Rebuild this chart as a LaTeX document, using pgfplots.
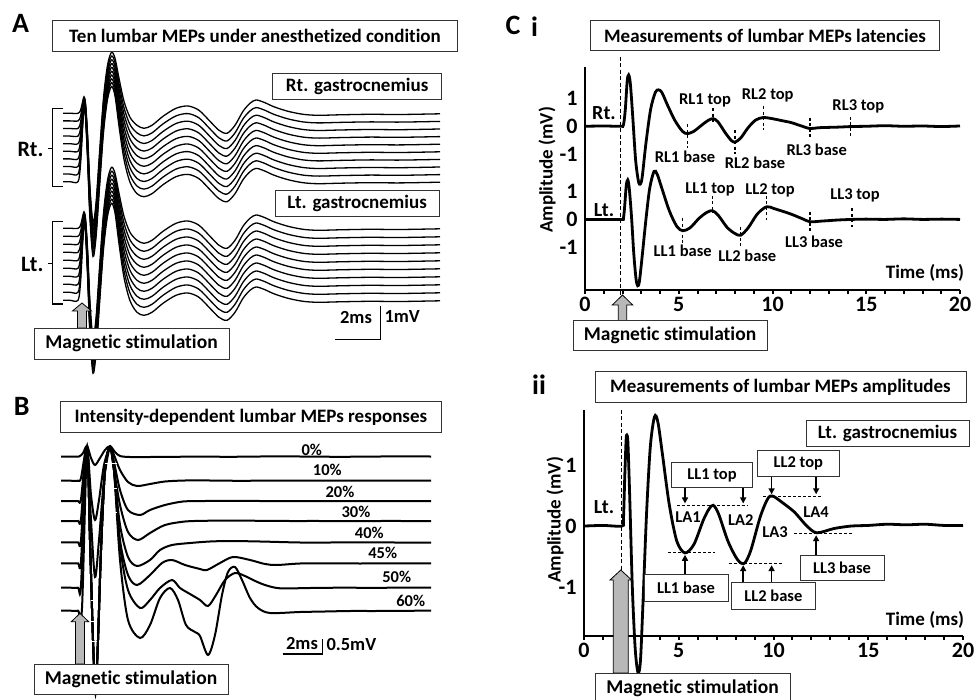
\documentclass[border=0pt]{standalone}
\usepackage{fontspec}
\setmainfont{Carlito}[Ligatures=NoCommon]
\usepackage{pgfplots}
\usepackage{pgfplotstable}
\pgfplotsset{compat=1.18}
\usetikzlibrary{arrows.meta}

\newcommand\fs[1]{\fontsize{#1}{#1}\selectfont\bfseries}

% template of one lumbar MEP (panel A), px: x, displacement d, weight w of the trace offset
\pgfplotstableread{
x d w
63 0 1
70 0 1
78 0 1
80.5 3 0.8
82.5 11 0.4
84 16.5 0.15
85.5 10 0.2
87.5 -20 0.35
90 -75 0.45
93 -109 0.5
96 -90 0.5
99.5 -40 0.5
103.5 15 0.5
107.5 48 0.5
111.5 61 0.5
115 55 0.55
119 35 0.7
124 12 0.85
130 -4 0.95
137 -12 1
144 -15 1
152 -12 1
163 -3 1
176 5 1
188 7.3 1
199 3 1
210 -8 1
219 -17 1
227 -20 1
235 -12 1
243 2 1
250 10 1
256 13.3 1
264 11 1
274 6.5 1
288 2 1
303 -1 1
318 -2 1
340 -1.5 1
370 -1 1
400 -1.2 1
440 -0.5 1
}\Atemp

% panel C i, right (ms, mV)
\pgfplotstableread{
t v
0 0
1 0.01
1.9 0
2.05 0.05
2.15 0.6
2.25 1.6
2.33 1.82
2.42 1.5
2.55 0.3
2.7 -1.2
2.85 -1.95
2.95 -2.05
3.05 -1.8
3.25 -0.6
3.5 0.6
3.75 1.2
3.92 1.29
4.1 1.2
4.4 0.75
4.8 0.2
5.2 -0.18
5.46 -0.26
5.8 -0.18
6.3 0.08
6.6 0.22
6.84 0.27
7.1 0.15
7.5 -0.25
7.8 -0.5
8.0 -0.56
8.3 -0.42
8.7 -0.05
9.1 0.22
9.5 0.31
9.9 0.28
10.5 0.2
11.0 0.13
11.5 0.02
12.0 -0.08
12.5 -0.05
13.5 -0.03
14.2 -0.01
15 0
16 0.02
17 0
18 0.01
19 -0.01
20 0.01
}\CiRt

% panel C i, left
\pgfplotstableread{
t v
0 0
1 0
1.95 0
2.05 0.05
2.12 0.5
2.2 1.2
2.28 1.4
2.36 1.1
2.48 0.1
2.6 -1.2
2.72 -2.1
2.81 -2.35
2.9 -2.2
3.05 -1.3
3.25 0.0
3.45 1.1
3.68 1.7
3.85 1.6
4.1 1.1
4.5 0.3
4.9 -0.25
5.21 -0.4
5.6 -0.3
6.1 0.05
6.5 0.25
6.79 0.31
7.1 0.15
7.6 -0.3
8.0 -0.5
8.3 -0.56
8.7 -0.3
9.2 0.2
9.69 0.45
10.1 0.38
10.9 0.21
11.5 0.05
12.0 -0.08
12.6 -0.06
13.5 -0.02
14.25 0
15 0.01
16 0
17 0.02
18 0
19 0.01
20 0
}\CiLt

% panel C ii, left
\pgfplotstableread{
t v
0 0
1 0.01
2 0
2.08 0.1
2.15 0.8
2.22 1.4
2.26 1.49
2.32 1.35
2.42 0.4
2.55 -1.0
2.7 -2.0
2.85 -2.4
2.98 -2.2
3.12 -1.2
3.3 0.2
3.5 1.3
3.72 1.79
3.9 1.7
4.15 1.15
4.5 0.35
4.9 -0.25
5.33 -0.44
5.8 -0.3
6.3 0.1
6.6 0.28
6.82 0.34
7.1 0.2
7.6 -0.25
8.1 -0.55
8.46 -0.61
8.8 -0.4
9.3 0.15
9.7 0.45
9.96 0.49
10.4 0.4
11.1 0.23
11.7 0.02
12.27 -0.11
13.2 -0.04
14.1 0
15 0.01
16 0.03
17 0.02
18 0.03
19 0.01
20 0.01
}\CiiLt

\pgfplotsset{
  cstyle/.style={anchor=south west, scale only axis, xmin=0, xmax=20,
    axis lines*=left, axis line style={-, line width=2.5pt},
    xtick={0,5,10,15,20}, xticklabels={0,5,10,15,20},
    minor xtick={1,2,3,4,6,7,8,9,11,12,13,14,16,17,18,19},
    tick align=outside, major tick length=4pt, minor tick length=4pt,
    every tick/.style={line width=2pt, black},
    ytick style={draw=none},
    tick label style={font=\fs{22}},
    clip=false},
  trace/.style={black, line width=2.8pt, smooth, tension=0.5, mark=none},
  btrace/.style={black, line width=2pt, smooth, tension=0.5, mark=none},
}
\tikzset{
  mk/.style={dash pattern=on 3pt off 2.5pt, line width=1.6pt},
  hd/.style={dash pattern=on 3pt off 2pt, line width=1pt},
  ar/.style={line width=1.5pt, -{Triangle[length=6pt,width=6pt]}},
}

\newcommand\tbox[6]{\draw[line width=0.9pt, draw=black!80, fill=white] (axis cs:#1,#2) rectangle (axis cs:#3,#4);
  \node[font=\fs{#5}] at (axis cs:{(#1+#3)/2},{(#2+#4)/2}) {#6};}
\newcommand\blockarrow[6]{\draw[line width=0.8pt, fill=black!28] (axis cs:#1,#2) -- (axis cs:#1+#4,#3) -- (axis cs:#1+#5,#3)
  -- (axis cs:#1+#5,#6) -- (axis cs:#1-#5,#6) -- (axis cs:#1-#5,#3) -- (axis cs:#1-#4,#3) -- cycle;}

\begin{document}
\begin{tikzpicture}
\useasboundingbox (0,0) rectangle (974pt,700pt);

% ---- C i: latencies
\begin{axis}[cstyle, at={(585pt,410pt)}, width=375pt, height=223pt,
  ymin=-2.5, ymax=5.4, ytick={-1,0,1,2.3,3.3,4.3}, yticklabels={-1,0,1,-1,0,1}]
\addplot[trace] table[x=t, y expr=\thisrow{v}+3.3] {\CiRt};
\addplot[trace] table[x=t, y=v] {\CiLt};
\draw[dash pattern=on 4pt off 2.5pt, line width=1.3pt] (axis cs:1.9,5.77) -- (axis cs:1.9,-2.68);
\draw[mk] (axis cs:5.46,3.37) -- (axis cs:5.46,2.54);
\draw[mk] (axis cs:6.84,3.93) -- (axis cs:6.84,3.37);
\draw[mk] (axis cs:8.0,3.16) -- (axis cs:8.0,2.32);
\draw[mk] (axis cs:9.51,4.01) -- (axis cs:9.51,3.16);
\draw[mk] (axis cs:12.0,3.61) -- (axis cs:12.0,2.9);
\draw[mk] (axis cs:14.17,3.63) -- (axis cs:14.17,2.92);
\draw[mk] (axis cs:5.21,0.04) -- (axis cs:5.21,-0.86);
\draw[mk] (axis cs:6.79,0.83) -- (axis cs:6.79,0.21);
\draw[mk] (axis cs:8.3,-0.26) -- (axis cs:8.3,-0.98);
\draw[mk] (axis cs:9.69,0.83) -- (axis cs:9.69,-0.02);
\draw[mk] (axis cs:12.0,0.27) -- (axis cs:12.0,-0.5);
\draw[mk] (axis cs:14.25,0.39) -- (axis cs:14.25,-0.26);
\end{axis}

% ---- C ii: amplitudes
\begin{axis}[cstyle, at={(584pt,64pt)}, width=379pt, height=226pt,
  ymin=-1.8, ymax=1.9, ytick={-1,0,1}, yticklabels={-1,0,1}]
\addplot[trace] table[x=t, y=v] {\CiiLt};
\draw[dash pattern=on 4pt off 2.5pt, line width=1.3pt] (axis cs:1.99,1.9) -- (axis cs:1.99,-0.72);
\draw[hd] (axis cs:4.89,0.34) -- (axis cs:8.67,0.34);
\draw[hd] (axis cs:4.45,-0.44) -- (axis cs:6.9,-0.44);
\draw[hd] (axis cs:7.67,-0.61) -- (axis cs:10.43,-0.61);
\draw[hd] (axis cs:9.46,0.49) -- (axis cs:12.59,0.49);
\draw[hd] (axis cs:11.1,-0.12) -- (axis cs:14.2,-0.12);
\draw[ar] (axis cs:5.33,0.63) -- (axis cs:5.33,0.37);
\draw[ar] (axis cs:8.4,0.63) -- (axis cs:8.4,0.37);
\draw[ar] (axis cs:9.9,0.82) -- (axis cs:9.9,0.52);
\draw[ar] (axis cs:12.25,0.82) -- (axis cs:12.25,0.52);
\draw[ar] (axis cs:5.33,-0.79) -- (axis cs:5.33,-0.47);
\draw[ar] (axis cs:8.4,-0.93) -- (axis cs:8.4,-0.64);
\draw[ar] (axis cs:9.9,-0.93) -- (axis cs:9.9,-0.64);
\draw[ar] (axis cs:12.25,-0.47) -- (axis cs:12.25,-0.15);
\end{axis}

% ---- panels A and B, and all boxes and labels, in picture pixels
\begin{axis}[at={(0pt,0pt)}, anchor=south west, scale only axis, width=974pt, height=700pt,
  xmin=0, xmax=974, ymin=0, ymax=700, y dir=reverse, hide axis, clip=false]
% A: ten right and ten left traces
\pgfplotsinvokeforeach{0,...,9}{
  \addplot[black, line width=1.3pt, smooth, tension=0.5, mark=none]
    table[x=x, y expr={113.3+7.6*#1*\thisrow{w}-\thisrow{d}}] {\Atemp};
  \addplot[black, line width=1.3pt, smooth, tension=0.5, mark=none]
    table[x=x, y expr={228.3+8*#1*\thisrow{w}-\thisrow{d}}] {\Atemp};
}
% B: intensity series 0%, 10%, ..., 60%
\addplot[btrace] coordinates {
(61,456.5) (70,456.5) (79,456.5) (83,453) (87,446) (91,458) (95,465) (100,458) (105,450) (110,446) (115,452) (120,456) (130,457) (150,457) (175,456.8) (200,456.6) (230,456.8) (260,456.5) (300,456.5) (340,456.8) (380,456.5) (431,456.5)};
\addplot[btrace] coordinates {
(61,480.7) (70,480.7) (78,480.7) (81,478) (87,447) (91,495) (95,520) (99,500) (104,465) (110,447) (114,455) (120,470) (128,482) (137,486) (150,484) (165,481.5) (185,480.5) (210,480.5) (240,480.8) (270,480.6) (300,480.7) (335,480.5) (370,480.7) (400,480.6) (431,480.7)};
\addplot[btrace] coordinates {
(61,501) (70,501) (78,501) (81,499) (87,447) (91,520) (95,577) (99,540) (104,480) (110,447) (114,462) (120,490) (128,510) (140,515) (150,510) (165,505) (183,501.5) (205,501) (230,500.8) (260,501) (290,501.2) (320,501) (350,501.2) (380,501) (405,501.2) (431,501)};
\addplot[btrace] coordinates {
(61,521) (70,521) (78,521) (81,519) (87,447) (90,540) (93,640) (95.5,685) (98,640) (101,550) (105,470) (110,447) (114,470) (120,505) (128,532) (138,540) (150,533) (165,525) (185,521.5) (205,520.8) (230,520.5) (260,520.8) (290,521) (320,521) (350,521.2) (380,521) (405,521) (431,521)};
\addplot[btrace] coordinates {
(61,542.3) (70,542.3) (78,542.3) (81,540) (87,447) (90,540) (93,640) (95.5,688) (98,640) (101,550) (105,470) (110,447) (114,470) (120,525) (128,557) (137,566) (150,560) (160,550) (172,545) (190,543) (210,541.5) (230,541) (260,541.5) (300,542.5) (330,542.5) (360,542.3) (395,542.5) (431,542.5)};
\addplot[btrace] coordinates {
(61,563.3) (70,563.3) (78,563.3) (81,561) (87,447) (90,540) (93,640) (95.5,690) (98,640) (101,550) (105,470) (110,447) (114,470) (120,540) (128,575) (137,585) (150,575) (162,563) (172,560) (185,565) (200,569) (207,570) (220,563) (233,557) (250,560) (265,564) (277,565) (300,563.5) (330,563.3) (360,563.5) (395,563.3) (431,563.3)};
\addplot[btrace] coordinates {
(61,587.7) (70,587.7) (78,587.7) (81,585) (87,447) (90,540) (93,640) (95.5,692) (98,640) (101,550) (105,470) (110,447) (114,470) (120,545) (128,590) (140,608) (150,600) (160,588) (172,580) (180,588) (190,594) (200,600) (208,606) (216,595) (225,580) (235,573) (245,576) (253,580) (265,585) (280,588.3) (310,588) (340,587.7) (370,587.8) (400,587.7) (431,587.7)};
\addplot[btrace] coordinates {
(61,610.7) (70,610.7) (78,610.7) (82,608) (87,447) (90,540) (93,640) (95.5,694) (98,640) (101,550) (105,470) (110,447) (114,470) (120,560) (128,620) (140,638) (150,625) (160,598) (170,588) (178,600) (186,625) (195,632) (200,636) (208,655) (215,635) (222,595) (228,572) (235,567) (242,580) (250,598) (258,608) (270,613) (300,612) (325,611.5) (350,611) (375,611) (400,610.8) (431,610.7)};
\draw[white, line width=1pt] (axis cs:105,463) -- (axis cs:117,463);
\draw[white, line width=1pt] (axis cs:105,488) -- (axis cs:117,488);
\draw[white, line width=1pt] (axis cs:105,512) -- (axis cs:117,512);
\draw[white, line width=1pt] (axis cs:105,534) -- (axis cs:117,534);
\draw[white, line width=1pt] (axis cs:91,600) -- (axis cs:97,600);
\draw[white, line width=1pt] (axis cs:91,621.7) -- (axis cs:97,621.7);
\draw[white, line width=1pt] (axis cs:91,641.7) -- (axis cs:97,641.7);

% A brackets and scale bar
\draw[line width=1.4pt] (axis cs:63.3,108.3) -- (axis cs:52.7,108.3) -- (axis cs:52.7,186.7) -- (axis cs:63.3,186.7);
\draw[line width=1.4pt] (axis cs:48,148.3) -- (axis cs:52.7,148.3);
\draw[line width=1.4pt] (axis cs:63.3,221.7) -- (axis cs:52.7,221.7) -- (axis cs:52.7,304) -- (axis cs:63.3,304);
\draw[line width=1.4pt] (axis cs:48,263.3) -- (axis cs:52.7,263.3);
\node[font=\fs{22}, anchor=east] at (axis cs:47,149) {Rt.};
\node[font=\fs{22}, anchor=east] at (axis cs:47,264) {Lt.};
\draw[line width=1.4pt] (axis cs:335,339.3) -- (axis cs:380.3,339.3) -- (axis cs:380.3,306);
\node[font=\fs{18.5}] at (axis cs:356,318) {2ms};
\node[font=\fs{18.5}, anchor=west] at (axis cs:381,316) {1mV};
% B scale bar and intensities
\draw[line width=1.4pt] (axis cs:282.7,654) -- (axis cs:322.7,654) -- (axis cs:322.7,639.3);
\node[font=\fs{18.5}] at (axis cs:302,643) {2ms};
\node[font=\fs{18.5}, anchor=west] at (axis cs:323,644) {0.5mV};
\node[font=\fs{16.5}] at (axis cs:311.7,450) {0\%};
\node[font=\fs{16.5}] at (axis cs:327.3,470) {10\%};
\node[font=\fs{16.5}] at (axis cs:340,492.3) {20\%};
\node[font=\fs{16.5}] at (axis cs:356,511.7) {30\%};
\node[font=\fs{16.5}] at (axis cs:369.3,533.3) {40\%};
\node[font=\fs{16.5}] at (axis cs:382.7,553.3) {45\%};
\node[font=\fs{16.5}] at (axis cs:396.7,577.3) {50\%};
\node[font=\fs{16.5}] at (axis cs:410.7,600.7) {60\%};

% stimulation arrows
\blockarrow{82}{303}{311}{9.5}{4.5}{328}
\blockarrow{80}{613.3}{621.7}{8.7}{4.5}{664}
\blockarrow{622.5}{295}{305}{10.2}{4.2}{320.7}
\blockarrow{620.8}{570}{580}{10.8}{7.5}{673}

% boxes
\tbox{52.7}{20}{457.3}{51}{19}{Ten lumbar MEPs under anesthetized condition}
\tbox{272.7}{73.3}{441.7}{99}{19}{Rt. gastrocnemius}
\tbox{275}{190.7}{439.3}{216}{19}{Lt. gastrocnemius}
\tbox{34}{328}{229}{359}{19.5}{Magnetic stimulation}
\tbox{60}{401.7}{441.7}{432.3}{19}{Intensity-dependent lumbar MEPs responses}
\tbox{34}{664}{228}{694}{19.5}{Magnetic stimulation}
\tbox{590.7}{20.7}{939.3}{50.7}{19}{Measurements of lumbar MEPs latencies}
\tbox{573}{320.7}{767}{350.7}{19.5}{Magnetic stimulation}
\tbox{595}{371.7}{966}{402.3}{19}{Measurements of lumbar MEPs amplitudes}
\tbox{595}{673}{790}{703}{19.5}{Magnetic stimulation}
\tbox{806}{420}{969}{446}{19}{Lt. gastrocnemius}
\tbox{671.7}{462.7}{752.3}{487.7}{16.5}{LL1 top}
\tbox{757.3}{450.7}{839.3}{476}{16.5}{LL2 top}
\tbox{644}{574}{728}{601}{16.5}{LL1 base}
\tbox{731.7}{582.7}{815}{609.3}{16.5}{LL2 base}
\tbox{800}{555}{884}{580}{16.5}{LL3 base}

% panel letters
\node[font=\fs{28}] at (axis cs:20.7,23.3) {A};
\node[font=\fs{28}] at (axis cs:21.7,406.7) {B};
\node[font=\fs{28}] at (axis cs:513,25) {C};
\node[font=\fs{28}] at (axis cs:534.5,27) {i};
\node[font=\fs{28}] at (axis cs:539,385) {ii};

% C i labels
\node[font=\fs{20}] at (axis cs:604,113) {Rt.};
\node[font=\fs{20}] at (axis cs:604,210) {Lt.};
\node[font=\fs{19}, rotate=90] at (axis cs:547,170) {Amplitude (mV)};
\node[font=\fs{19}] at (axis cs:925,273) {Time (ms)};
\node[font=\fs{16.5}] at (axis cs:705,100) {RL1 top};
\node[font=\fs{16.5}] at (axis cs:767.7,95.7) {RL2 top};
\node[font=\fs{16.5}] at (axis cs:858.3,106) {RL3 top};
\node[font=\fs{16.5}] at (axis cs:685,156.7) {RL1 base};
\node[font=\fs{16.5}] at (axis cs:755,162.3) {RL2 base};
\node[font=\fs{16.5}] at (axis cs:816.7,150) {RL3 base};
\node[font=\fs{16.5}] at (axis cs:710,189.3) {LL1 top};
\node[font=\fs{16.5}] at (axis cs:770,190) {LL2 top};
\node[font=\fs{16.5}] at (axis cs:855,195.7) {LL3 top};
\node[font=\fs{16.5}] at (axis cs:682.7,250.7) {LL1 base};
\node[font=\fs{16.5}] at (axis cs:747.3,256) {LL2 base};
\node[font=\fs{16.5}] at (axis cs:814,241.7) {LL3 base};
% C ii labels
\node[font=\fs{20}] at (axis cs:604,507) {Lt.};
\node[font=\fs{19}, rotate=90] at (axis cs:555,520) {Amplitude (mV)};
\node[font=\fs{19}] at (axis cs:925,620) {Time (ms)};
\node[font=\fs{16.5}] at (axis cs:688,517) {LA1};
\node[font=\fs{16.5}] at (axis cs:740.7,520) {LA2};
\node[font=\fs{16.5}] at (axis cs:775,531.7) {LA3};
\node[font=\fs{16.5}] at (axis cs:816,511.7) {LA4};
\end{axis}
\end{tikzpicture}
\end{document}
